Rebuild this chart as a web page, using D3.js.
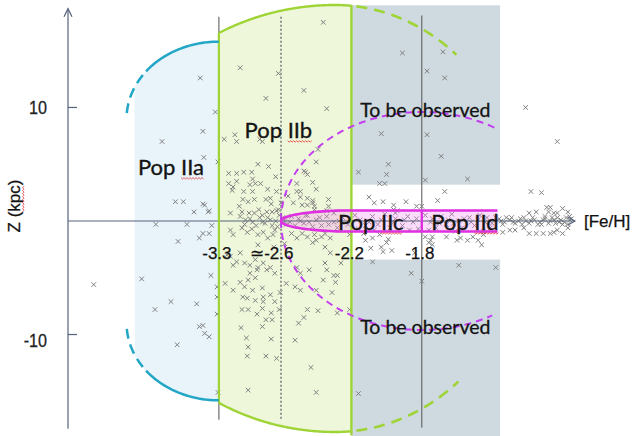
<!DOCTYPE html>
<html><head><meta charset="utf-8">
<script src="https://cdn.jsdelivr.net/npm/d3@7"></script>
<style>body{margin:0;background:#fff}svg{display:block}</style>
</head><body>
<svg id="c" width="633" height="436"></svg>
<script>
// ---------- data ----------
const xTickValues = [-3.3, -2.6, -2.2, -1.8];
const xTickLabels = ["-3.3", "\u2243-2.6", "-2.2", "-1.8"];
const yTickValues = [10, -10];
const yTickLabels = ["10", "-10"];
const boundaries = [-3.3, -2.6, -2.2, -1.8];
const popLabels = ["Pop IIa", "Pop IIb", "Pop IIc", "Pop IId"];
const pendingLabel = "To be observed";
const xAxisTitle = "[Fe/H]";
const yAxisTitle = "Z (kpc)";

// stars: [Fe/H, Z(kpc)]
const starsUpper = [[-3.51,12.6],[-3.34,9.6],[-3.48,7.9],[-3.94,7.0],[-3.47,5.6],[-3.06,13.5],[-2.63,13.0],[-2.77,10.8],[-2.47,11.5],[-2.34,9.9],[-2.36,17.5],[-3.24,7.2],[-3.12,7.6],[-3.10,7.0],[-2.84,7.2],[-2.81,7.0],[-2.39,6.3],[-2.40,5.2],[-2.86,5.0],[-2.74,4.8],[-1.91,14.8],[-1.68,14.9],[-1.77,13.2],[-1.67,12.6],[-1.21,10.0],[-1.03,7.0],[-2.03,7.7],[-1.77,7.6],[-1.69,5.7],[-1.99,5.0],[-2.16,4.3],[-2.00,4.1],[-2.04,3.3],[-2.01,3.3],[-1.78,3.6],[-1.54,3.7],[-1.67,2.6],[-1.18,2.6],[-1.12,2.5],[-2.10,2.1],[-2.07,1.6],[-2.02,1.7],[-1.89,1.7],[-1.71,1.8],[-1.83,1.3],[-1.80,1.3],[-2.40,2.8],[-2.42,1.6],[-1.96,1.0],[-1.94,0.9],[-3.79,1.7],[-3.70,1.7],[-3.58,0.8],[-3.48,1.5],[-3.41,0.9],[-3.31,5.2],[-3.19,4.2],[-3.10,4.2],[-3.02,4.3],[-2.93,4.3],[-2.89,3.3],[-2.83,3.3],[-3.10,3.5],[-3.19,3.3],[-3.15,2.7],[-3.02,2.6],[-2.92,2.6],[-2.77,1.9],[-2.71,1.5],[-2.97,1.7],[-3.17,0.7],[-3.04,0.8],[-2.76,0.8],[-2.65,0.9],[-2.42,1.8],[-2.45,1.4],[-2.41,1.0],[-2.46,0.5],[-2.65,2.6],[-2.66,3.9],[-2.47,4.4],[-2.42,3.4],[-2.49,2.6],[-2.92,3.7],[-3.14,3.0],[-2.95,3.2],[-2.75,2.8],[-3.03,1.9],[-2.72,2.0],[-3.07,1.3],[-2.96,0.7],[-2.90,0.7],[-2.85,1.0],[-2.81,0.5],[-2.70,0.8],[-2.63,1.0],[-2.51,3.3],[-2.46,4.3],[-2.45,4.1],[-2.51,2.6],[-2.49,2.1],[-2.45,2.0],[-2.53,1.6],[-2.48,1.4],[-2.41,1.3],[-2.33,1.9],[-2.33,1.3],[-2.34,0.9],[-2.30,0.7],[-3.46,1.4],[-3.42,0.8],[-1.96,1.4],[-1.19,0.7],[-1.15,0.8],[-1.10,0.4],[-1.07,1.2],[-1.05,0.7],[-1.03,0.3],[-0.97,0.8],[-0.96,0.4],[-1.08,0.8],[-1.03,0.7],[-1.09,1.2],[-1.00,1.1],[-2.60,1.6],[-2.56,2.2],[-2.90,1.9]];
const starsLower = [[-4.01,-0.3],[-3.66,-0.3],[-3.38,-0.4],[-3.76,-1.8],[-3.52,-1.5],[-3.48,-1.1],[-3.41,-1.1],[-4.17,-5.1],[-4.71,-5.6],[-4.02,-7.8],[-3.84,-7.1],[-3.55,-7.3],[-3.39,-4.8],[-3.32,-5.8],[-3.32,-6.7],[-3.32,-8.2],[-3.52,-9.3],[-3.48,-9.2],[-3.46,-9.9],[-3.41,-10.2],[-3.77,-10.9],[-3.31,-15.1],[-3.17,-0.8],[-3.14,-1.2],[-3.04,-0.6],[-2.98,-1.0],[-2.93,-0.7],[-2.86,-1.2],[-2.80,-1.0],[-2.75,-1.5],[-2.69,-1.2],[-2.67,-0.8],[-2.54,-1.1],[-2.51,-1.5],[-2.48,-1.1],[-2.45,-1.4],[-2.42,-1.9],[-2.40,-1.7],[-2.35,-1.1],[-2.32,-1.5],[-3.21,-3.0],[-3.17,-3.1],[-3.06,-2.8],[-3.10,-3.6],[-3.01,-3.7],[-2.95,-3.9],[-2.89,-3.4],[-2.86,-4.1],[-2.80,-3.7],[-2.72,-4.1],[-2.67,-4.6],[-2.51,-4.1],[-2.49,-4.6],[-2.44,-4.3],[-2.35,-3.7],[-2.34,-4.3],[-2.30,-4.8],[-2.29,-5.4],[-3.06,-5.4],[-3.01,-5.8],[-2.95,-4.6],[-2.89,-5.0],[-3.14,-6.1],[-3.23,-5.5],[-2.92,-6.1],[-2.81,-5.9],[-2.80,-6.7],[-2.72,-6.5],[-2.52,-5.8],[-2.49,-6.1],[-2.57,-5.5],[-2.40,-6.1],[-2.31,-6.3],[-2.97,-5.2],[-2.98,-6.8],[-3.04,-7.8],[-2.97,-7.8],[-2.81,-7.7],[-3.05,-9.4],[-2.81,-9.3],[-2.77,-8.7],[-2.70,-8.7],[-2.99,-10.3],[-2.97,-11.1],[-2.98,-11.9],[-2.77,-11.9],[-2.65,-12.1],[-2.97,-14.9],[-2.47,-8.5],[-2.45,-7.8],[-2.39,-7.9],[-2.52,-10.5],[-2.43,-12.9],[-2.40,-15.1],[-3.14,-3.9],[-2.87,-4.3],[-2.76,-4.3],[-3.03,-6.7],[-2.89,-7.0],[-2.80,-7.1],[-2.61,-6.3],[-2.67,-7.1],[-2.87,-8.2],[-2.71,-8.1],[-2.62,-7.8],[-2.71,-10.4],[-2.50,-9.0],[-2.28,-8.1],[-2.16,-15.2],[-1.59,-3.9],[-1.38,-4.1],[-1.86,-4.6],[-1.80,-5.3],[-2.26,-3.7],[-2.28,-4.8],[-2.36,-5.2],[-2.21,-7.8],[-2.08,-3.6],[-2.41,-1.2],[-2.37,-1.4],[-2.35,-2.3],[-2.32,-2.8],[-2.09,-2.4],[-2.03,-2.3],[-1.97,-2.6],[-2.21,-1.2],[-2.12,-1.7],[-2.08,-1.5],[-1.99,-1.6],[-1.78,-1.4],[-1.76,-1.9],[-1.74,-1.4],[-1.58,-1.5],[-1.54,-1.7],[-1.51,-1.4],[-1.48,-1.7],[-1.45,-1.2],[-1.34,-1.0],[-1.27,-0.8],[-1.22,-0.6],[-1.19,-1.1],[-1.11,-1.1],[-1.05,-1.0],[-1.00,-1.1],[-0.97,-0.6],[-1.46,-2.1],[-2.13,-1.1],[-2.04,-1.2],[-2.00,-1.9],[-1.75,-1.7],[-1.66,-1.4],[-1.60,-1.7],[-2.02,-2.7],[-1.84,-2.8],[-1.74,-2.1],[-1.30,-0.8],[-1.15,-1.1],[-1.07,-1.1],[-1.03,-0.8],[-2.58,-2.0],[-2.68,-2.3],[-2.86,-2.1]];
const starsDisk = [[-2.18,0.5],[-2.15,0.1],[-2.12,-0.4],[-2.08,0.4],[-2.05,-0.3],[-2.01,0.6],[-1.98,-0.6],[-1.95,0.2],[-1.91,-0.4],[-1.88,0.4],[-1.85,-0.1],[-1.82,-0.7],[-2.16,-0.7],[-2.07,-0.8],[-1.95,0.7],[-1.87,-0.8],[-1.78,0.5],[-1.75,-0.1],[-1.72,-0.6],[-1.69,0.4],[-1.66,-0.3],[-1.63,0.6],[-1.59,0.0],[-1.57,-0.6],[-1.53,0.3],[-1.50,-0.4],[-1.47,0.5],[-1.44,-0.1],[-1.41,-0.6],[-1.38,0.3],[-1.76,-0.8],[-1.61,-0.9],[-1.45,-0.9],[-1.36,0.2],[-1.33,-0.1],[-1.30,0.1],[-1.27,-0.2],[-1.24,0.2],[-1.21,0.0],[-1.19,-0.2],[-1.16,0.1],[-1.13,-0.1],[-1.10,0.2],[-1.07,0.0],[-1.04,-0.2],[-1.01,0.1],[-0.99,-0.1],[-0.96,0.1],[-1.34,-0.3],[-1.29,0.3],[-1.23,-0.3],[-1.17,0.3],[-1.12,-0.3],[-1.06,0.3],[-1.00,-0.3],[-0.95,0.2],[-2.59,0.3],[-2.57,-0.3],[-2.54,0.4],[-2.52,-0.4],[-2.50,0.2],[-2.47,-0.2],[-2.45,0.5],[-2.42,-0.5],[-2.40,0.1],[-2.37,-0.4],[-2.34,0.4],[-2.30,-0.1],[-2.28,-0.6],[-2.25,0.3],[-2.22,-0.3],[-2.81,-0.1],[-2.75,0.3],[-2.70,-0.4],[-2.66,0.0],[-2.88,-0.4],[-2.95,0.2],[-3.01,-0.3],[-3.06,0.4],[-1.74,0.2],[-1.70,-0.2],[-1.65,0.1],[-1.62,-0.2],[-1.56,0.2],[-1.52,-0.1],[-1.48,0.1],[-1.43,0.3],[-1.40,-0.2],[-1.35,0.0],[-1.32,0.3],[-1.28,-0.1],[-1.25,0.0],[-1.22,0.3],[-1.18,0.0],[-1.14,-0.3],[-1.11,0.1],[-1.08,-0.2],[-1.05,0.1],[-1.02,-0.1],[-0.98,0.3],[-0.97,-0.3],[-1.96,-0.1],[-2.03,0.1],[-2.10,-0.1],[-1.90,0.1],[-1.83,0.2],[-2.58,0.0],[-2.55,-0.1],[-2.49,0.0],[-2.44,-0.1],[-2.38,0.3],[-2.33,-0.3],[-2.27,0.0],[-2.62,0.5],[-2.64,-0.5],[-2.72,0.1],[-2.78,-0.2],[-2.84,0.3],[-2.92,-0.1],[-3.00,0.1]];

// ---------- scales ----------
const x = d3.scaleLinear().domain([-5, -2.6, -1]).range([68, 281, 562.6]);
const y = d3.scaleLinear().domain([-19, 19]).range([436.7, 5.3]);
const svg = d3.select("#c");
const y0 = y(0);
const [X33, X26, X22, X18] = boundaries.map(v => x(v));
const line = d3.line();

const GREEN = "#9ed436", BLUE = "#21a6c6", MAG = "#de2fe0", MAGD = "#c23ff0";

// ---------- background regions ----------
const xEnd = x(-1.355);
svg.append("rect").attr("x", X22).attr("y", y(19)).attr("width", xEnd - X22).attr("height", y(3.2) - y(19)).attr("fill", "#cfdae0");
svg.append("rect").attr("x", X22).attr("y", y(-3.4)).attr("width", xEnd - X22).attr("height", y(-18.95) - y(-3.4)).attr("fill", "#cfdae0");

// Pop IIa ellipse arcs
const bRx = X33 - x(-4.34), bRy = y(9) - y(15.8);
const bTopC = y(9), bBotC = y(-9);
const bArcY = (px, cy, s) => { const t = (X33 - px) / bRx; return cy + s * bRy * Math.sqrt(Math.max(0, 1 - t * t)); };
const bLeft = x(-4.25);
const blueFill = d3.range(bLeft, X33 + 0.01, 1).map(px => [px, bArcY(px, bTopC, -1)])
  .concat(d3.range(X33, bLeft - 0.01, -1).map(px => [px, bArcY(px, bBotC, 1)]));
svg.append("path").attr("d", line(blueFill) + "Z").attr("fill", "#e8f4fa");

// Pop IIb green region
const gCx = x(-2.293);
const gTop = px => { const rx = px <= gCx ? 236 : 190; const t = (px - gCx) / rx; return y0 - 216 * Math.sqrt(Math.max(0, 1 - t * t)); };
const gBot = px => { const rx = px <= gCx ? 229 : 190; const t = (px - gCx) / rx; return y0 + 211 * Math.sqrt(Math.max(0, 1 - t * t)); };
const greenFill = d3.range(X33, X22 + 0.01, 1).map(px => [px, gTop(px)])
  .concat(d3.range(X22, X33 - 0.01, -1).map(px => [px, gBot(px)]));
svg.append("path").attr("d", line(greenFill) + "Z").attr("fill", "#eff7da");

// ---------- guide lines ----------
svg.append("line").attr("x1", X33).attr("x2", X33).attr("y1", y(18)).attr("y2", y(-17.5)).attr("stroke", "#777").attr("stroke-width", 1.3);
svg.append("line").attr("x1", X26).attr("x2", X26).attr("y1", y(18)).attr("y2", y(-17.5)).attr("stroke", "#777").attr("stroke-width", 1.5).attr("stroke-dasharray", "2,2");
svg.append("line").attr("x1", X18).attr("x2", X18).attr("y1", y(18.1)).attr("y2", y(-18.2)).attr("stroke", "#555").attr("stroke-width", 1);

// ---------- stars ----------
const allStars = starsUpper.concat(starsLower, starsDisk);
const s = 2.3;
svg.append("g").selectAll("path").data(allStars).join("path")
  .attr("d", d => { const cx = x(d[0]), cy = y(d[1]); return `M${cx - s},${cy - s}L${cx + s},${cy + s}M${cx - s},${cy + s}L${cx + s},${cy - s}`; })
  .attr("stroke", "#808080").attr("stroke-width", 1).attr("fill", "none");

// ---------- Pop IIc / IId box ----------
const bxTop = y(0.93), bxBot = y(-0.93), bxRight = x(-1.37);
const noseRx = X22 - X26, noseRy = (bxBot - bxTop) / 2, noseCy = (bxTop + bxBot) / 2;
const nose = d3.range(90, 270.01, 3).map(a => { const r = a * Math.PI / 180; return [X22 + noseRx * Math.cos(r), noseCy - noseRy * Math.sin(r)]; });
const boxPath = line([[bxRight, bxTop]].concat(nose, [[bxRight, bxBot]]));
svg.append("path").attr("d", boxPath).attr("fill", "rgba(240,130,240,0.28)").attr("stroke", "none");

// ---------- axes ----------
const AX = "#56627a";
svg.append("line").attr("x1", x(-5)).attr("x2", x(-0.93)).attr("y1", y0).attr("y2", y0).attr("stroke", AX).attr("stroke-width", 1.2);
svg.append("path").attr("d", line([[x(-0.93) - 7, y0 - 4], [x(-0.93), y0], [x(-0.93) - 7, y0 + 4]])).attr("fill", "none").attr("stroke", AX).attr("stroke-width", 1.2);
svg.append("line").attr("x1", x(-5)).attr("x2", x(-5)).attr("y1", y(-18.3)).attr("y2", y(18.7)).attr("stroke", AX).attr("stroke-width", 1.2);
svg.append("path").attr("d", line([[x(-5) - 4, y(18.7) + 8], [x(-5), y(18.7)], [x(-5) + 4, y(18.7) + 8]])).attr("fill", "none").attr("stroke", AX).attr("stroke-width", 1.2);
yTickValues.forEach((v, i) => {
  svg.append("line").attr("x1", x(-5)).attr("x2", x(-5) + 9).attr("y1", y(v)).attr("y2", y(v)).attr("stroke", AX).attr("stroke-width", 1.2);
  svg.append("text").attr("transform", `translate(47,${y(v) + (v < 0 ? 12 : 7)}) scale(0.85,1)`)
    .attr("text-anchor", "end").attr("font-family", "Liberation Sans, Arial, sans-serif").attr("font-size", 19).attr("fill", "#222")
    .attr("stroke", "#222").attr("stroke-width", 0.3).text(yTickLabels[i]);
});

// ---------- outlines ----------
svg.append("line").attr("x1", X33).attr("x2", X33).attr("y1", gTop(X33)).attr("y2", gBot(X33)).attr("stroke", GREEN).attr("stroke-width", 2.2);
svg.append("line").attr("x1", X22).attr("x2", X22).attr("y1", gTop(X22) - 1).attr("y2", gBot(X22) + 4).attr("stroke", GREEN).attr("stroke-width", 2.4);
const gSolidT = d3.range(X33, X22 + 0.01, 1).map(px => [px, gTop(px)]);
const gDashT = d3.range(X22, x(-1.6) + 0.01, 1).map(px => [px, gTop(px)]);
const gSolidB = d3.range(X33, X22 + 0.01, 1).map(px => [px, gBot(px)]);
const gDashB = d3.range(X22, x(-1.59) + 0.01, 1).map(px => [px, gBot(px)]);
[gSolidT, gSolidB].forEach(p => svg.append("path").attr("d", line(p)).attr("fill", "none").attr("stroke", GREEN).attr("stroke-width", 2.4));
[gDashT, gDashB].forEach(p => svg.append("path").attr("d", line(p)).attr("fill", "none").attr("stroke", GREEN).attr("stroke-width", 2.6).attr("stroke-dasharray", "11,7").attr("stroke-dashoffset", -5));

const blueArc = (cy, s, a0, a1) => d3.range(a0, a1 + 0.01, 1).map(a => { const r = a * Math.PI / 180; return [X33 - bRx * Math.sin(r), cy + s * bRy * Math.cos(r)]; });
[[bTopC, -1], [bBotC, 1]].forEach(([cy, sg]) => {
  svg.append("path").attr("d", line(blueArc(cy, sg, 0, 52))).attr("fill", "none").attr("stroke", BLUE).attr("stroke-width", 2.5);
  svg.append("path").attr("d", line(blueArc(cy, sg, 52, 90))).attr("fill", "none").attr("stroke", BLUE).attr("stroke-width", 2.5).attr("stroke-dasharray", "10,6").attr("stroke-dashoffset", -5);
});

const mRx = X18 - X26, mRy = y(0) - y(9.6);
const magArc = (a0, a1) => d3.range(a0, a1 + 0.01, 1).map(a => { const r = a * Math.PI / 180; return [X18 + mRx * Math.cos(r), y0 - mRy * Math.sin(r)]; });
svg.append("path").attr("d", line(magArc(59, 180))).attr("fill", "none").attr("stroke", MAGD).attr("stroke-width", 2).attr("stroke-dasharray", "7,5");
svg.append("path").attr("d", line(magArc(180, 300))).attr("fill", "none").attr("stroke", MAGD).attr("stroke-width", 2).attr("stroke-dasharray", "7,5");

svg.append("path").attr("d", boxPath).attr("fill", "none").attr("stroke", MAG).attr("stroke-width", 2.6);
svg.append("line").attr("x1", X18).attr("x2", X18).attr("y1", bxTop).attr("y2", bxBot).attr("stroke", MAG).attr("stroke-width", 2.4);

// ---------- text ----------
const LBL = "Lato, 'Open Sans', sans-serif";
const squiggle = (g, x0, x1, yy) => {
  const pts = []; let k = 0;
  for (let px = x0; px <= x1; px += 1.5, k++) pts.push([px, yy + (k % 2 ? 1 : -0.4)]);
  g.append("path").attr("d", line(pts)).attr("fill", "none").attr("stroke", "#e23030").attr("stroke-width", 0.8);
};
const popPos = [[x(-3.84), y(4.05)], [x(-2.63), y(7.3)], [x(-2.09), y(-0.8)], [x(-1.555), y(-0.8)]];
popLabels.forEach((t, i) => {
  const [px, py] = popPos[i];
  const tx = svg.append("text").attr("x", px).attr("y", py).attr("text-anchor", "middle").attr("font-family", LBL).attr("font-size", 22)
    .attr("fill", "#141414").attr("stroke", "#141414").attr("stroke-width", 0.35).text(t);
  const node = tx.node(); const w = node.getComputedTextLength(); const a = node.getSubStringLength(0, 4);
  squiggle(svg, px - w / 2 + a, px + w / 2, py + 3);
});
[y(9.15), y(-9.95)].forEach(py => {
  svg.append("text").attr("x", x(-1.78)).attr("y", py).attr("text-anchor", "middle").attr("font-family", LBL).attr("font-size", 19.5)
    .attr("fill", "#141414").attr("stroke", "#141414").attr("stroke-width", 0.3).text(pendingLabel);
});
const AR = "'Liberation Sans', Arial, sans-serif";
xTickValues.forEach((v, i) => {
  const lbl = xTickLabels[i];
  const t = svg.append("text").attr("y", y(-3.35)).attr("font-family", AR).attr("font-size", 17).attr("fill", "#111")
    .attr("stroke", "#111").attr("stroke-width", 0.25).text(lbl);
  if (lbl.length > 4) t.attr("x", x(v) + 12.5).attr("text-anchor", "end");
  else t.attr("x", x(v) - 2).attr("text-anchor", "middle");
});
svg.append("text").attr("x", x(-0.93) + 9).attr("y", y0 + 6).attr("font-family", AR).attr("font-size", 17).attr("fill", "#111")
  .attr("stroke", "#111").attr("stroke-width", 0.25).text(xAxisTitle);
const yg = svg.append("g").attr("transform", "translate(20,206) rotate(-90)");
const yt = yg.append("text").attr("text-anchor", "middle").attr("font-family", AR).attr("font-size", 17).attr("fill", "#111")
  .attr("stroke", "#111").attr("stroke-width", 0.25).text(yAxisTitle);
{
  const n = yt.node(); const w = n.getComputedTextLength();
  squiggle(yg, -w / 2 + n.getSubStringLength(0, 3), -w / 2 + n.getSubStringLength(0, 6), 3);
}
</script>
</body></html>
